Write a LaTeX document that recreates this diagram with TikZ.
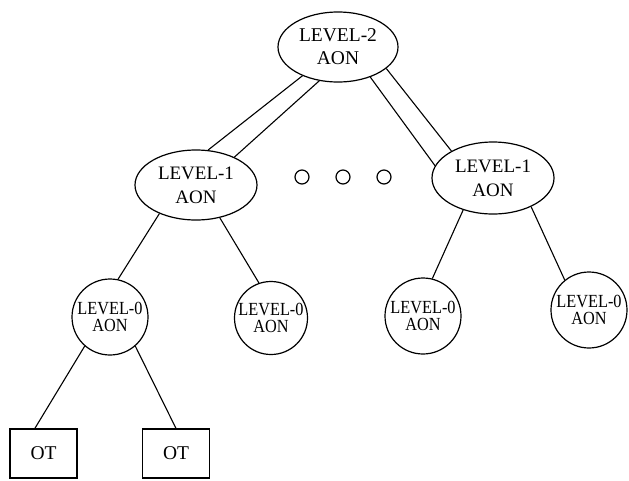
\documentclass[tikz,border=0pt]{standalone}
\usepackage{fontspec}
\setmainfont{Liberation Serif}
\newfontfamily\condfont[FakeStretch=0.88]{Liberation Serif}
\usetikzlibrary{shapes.geometric}
\begin{document}
\begin{tikzpicture}[x=1pt,y=-1pt,
  big/.style={ellipse,draw,line width=1.2pt,minimum width=122pt,minimum height=70pt,inner sep=0pt,align=center,font=\fontsize{19}{24}\selectfont},
  small/.style={circle,draw,line width=1.2pt,minimum size=76pt,inner sep=0pt,align=center,font=\condfont\fontsize{18.5}{17}\selectfont},
  leaf/.style={rectangle,draw,line width=1.2pt,minimum width=67pt,minimum height=49pt,inner sep=0pt,font=\fontsize{19.5}{23}\selectfont},
  dotc/.style={circle,draw,line width=1.2pt,minimum size=14pt,inner sep=0pt},
  link/.style={line width=1.1pt}]
\useasboundingbox (0,0) rectangle (629,480);
% nodes
\node[big,minimum width=120pt,font=\fontsize{19.5}{23}\selectfont] (L2) at (338,47) {LEVEL-2\\AON};
\node[big] (L1a) at (196,185) {LEVEL-1\\AON};
\node[big,minimum height=72pt] (L1b) at (493,178) {LEVEL-1\\AON};
\node[small] (C0) at (110,317) {\makebox[0pt]{LEVEL-0}\\\makebox[0pt]{AON}};
\node[small,minimum size=73pt] (C1) at (271,318) {\makebox[0pt]{LEVEL-0}\\\makebox[0pt]{AON}};
\node[small] (C2) at (423,316) {\makebox[0pt]{LEVEL-0}\\\makebox[0pt]{AON}};
\node[small] (C3) at (589,310) {\makebox[0pt]{LEVEL-0}\\\makebox[0pt]{AON}};
\node[leaf] (T1) at (43.5,453.5) {OT};
\node[leaf] (T2) at (176,453.5) {OT};
\node[dotc] (d1) at (302,177) {};
\node[dotc] (d2) at (343,177) {};
\node[dotc] (d3) at (384,177) {};
% connectors
\draw[link] (L2.219) -- (L1a.71);
\draw[link] (L2.241) -- (L1a.36);
\draw[link] (L2.317) -- (L1b.168);
\draw[link] (L2.336) -- (L1b.147);
\draw[link] (L1a.218) -- (C0.78);
\draw[link] (L1a.306) -- (C1.109);
\draw[link] (L1b.227) -- (C2.76);
\draw[link] (L1b.323) -- (C3.129);
\draw[link] (C0.229) -- (T1.109);
\draw[link] (C0.311) -- (T2.north);
\end{tikzpicture}
\end{document}
